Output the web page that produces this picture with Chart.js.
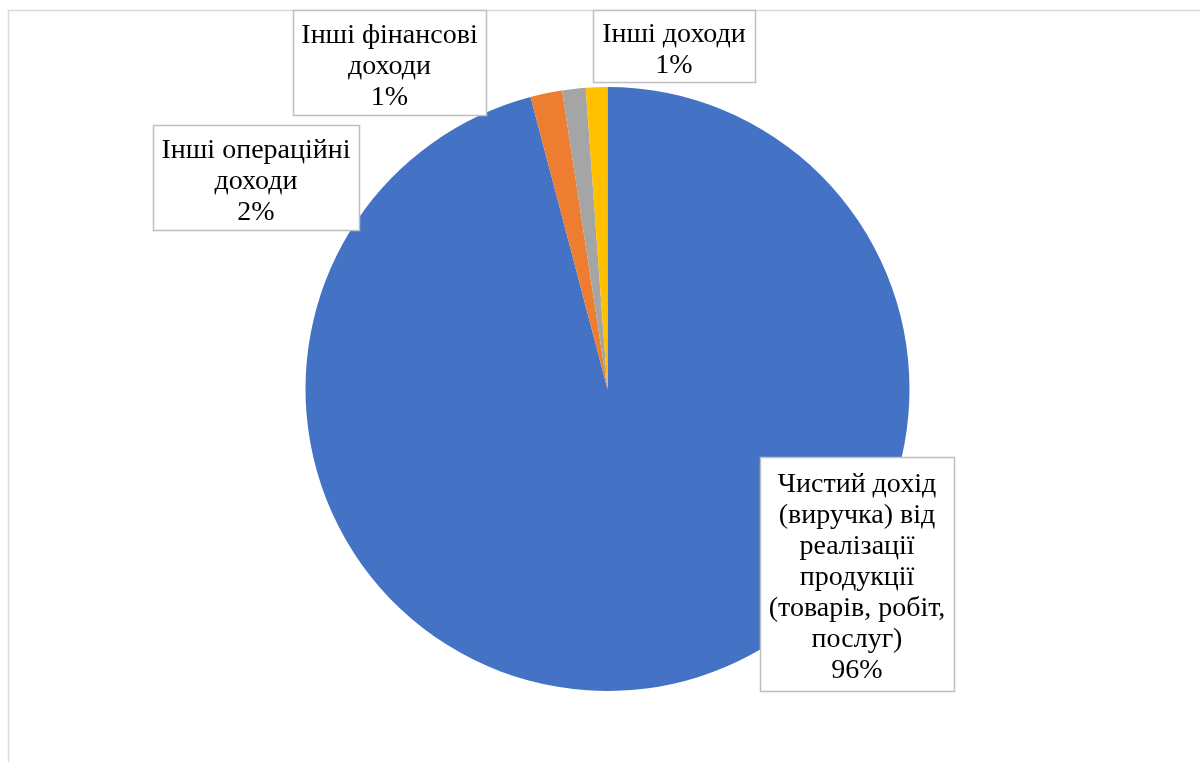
<!DOCTYPE html>
<html>
<head>
<meta charset="utf-8">
<script src="https://cdn.jsdelivr.net/npm/chart.js@4"></script>
<style>
  html, body { margin: 0; padding: 0; background: #fff; }
  #wrap { width: 1200px; height: 762px; position: relative; }
</style>
</head>
<body>
<div id="wrap"><canvas id="chart"></canvas></div>
<script>
// дані
const categories = [
  'Чистий дохід (виручка) від реалізації продукції (товарів, робіт, послуг)',
  'Інші операційні доходи',
  'Інші фінансові доходи',
  'Інші доходи'
];
const shares = [95.9, 1.7, 1.25, 1.15];
const colors = ['#4472C4', '#ED7D31', '#A5A5A5', '#FFC000'];

// розміщення підписів (x, y, ширина, висота рамки)
const labelBoxes = [
  [760, 457, 194, 234],
  [153, 125, 206, 105],
  [293, 10, 193, 105],
  [593, 10, 162, 72]
];

const FONT = '28px "Liberation Serif", "Times New Roman", serif';
const LINE_H = 31;

function wrapText(ctx, text, maxW) {
  const words = text.split(' ');
  const lines = [];
  let cur = '';
  words.forEach(w => {
    const test = cur ? cur + ' ' + w : w;
    if (ctx.measureText(test).width > maxW && cur) {
      lines.push(cur);
      cur = w;
    } else {
      cur = test;
    }
  });
  if (cur) lines.push(cur);
  return lines;
}

const labelPlugin = {
  id: 'boxLabels',
  afterDraw(chart) {
    const ctx = chart.ctx;
    const data = chart.data.datasets[0].data;
    const total = data.reduce((a, b) => a + b, 0);
    ctx.save();
    // рамка області діаграми
    ctx.strokeStyle = '#d9d9d9';
    ctx.lineWidth = 1.5;
    ctx.strokeRect(8.5, 10.5, 1400, 900);

    ctx.font = FONT;
    ctx.textAlign = 'center';
    ctx.textBaseline = 'middle';
    chart.data.labels.forEach((lab, i) => {
      const [x, y, w, h] = labelBoxes[i];
      ctx.fillStyle = '#fff';
      ctx.fillRect(x, y, w, h);
      ctx.strokeStyle = '#bfbfbf';
      ctx.lineWidth = 1.5;
      ctx.strokeRect(x + 0.5, y + 0.5, w, h);
      const lines = wrapText(ctx, lab, w - 8);
      lines.push(Math.round(data[i] / total * 100) + '%');
      const startY = y + h / 2 + 4 - (lines.length - 1) * LINE_H / 2;
      ctx.fillStyle = '#000';
      lines.forEach((ln, k) => ctx.fillText(ln, x + w / 2, startY + k * LINE_H));
    });
    ctx.restore();
  }
};

new Chart(document.getElementById('chart'), {
  type: 'pie',
  data: {
    labels: categories,
    datasets: [{
      data: shares,
      backgroundColor: colors,
      borderWidth: 0
    }]
  },
  options: {
    responsive: true,
    maintainAspectRatio: false,
    animation: false,
    layout: { padding: { left: 305, right: 290, top: 87, bottom: 71 } },
    plugins: {
      legend: { display: false },
      tooltip: { enabled: false }
    }
  },
  plugins: [labelPlugin]
});
</script>
</body>
</html>
